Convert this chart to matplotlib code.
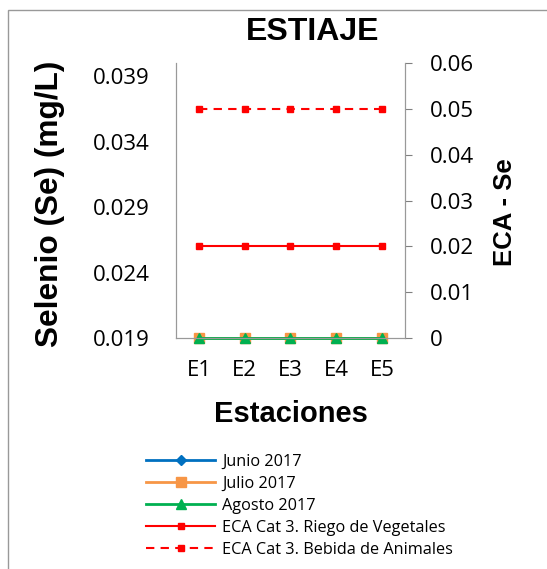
import matplotlib.pyplot as plt

estaciones = ['E1', 'E2', 'E3', 'E4', 'E5']
junio = [0.019, 0.019, 0.019, 0.019, 0.019]
julio = [0.019, 0.019, 0.019, 0.019, 0.019]
agosto = [0.019, 0.019, 0.019, 0.019, 0.019]
eca_riego = [0.02, 0.02, 0.02, 0.02, 0.02]
eca_bebida = [0.05, 0.05, 0.05, 0.05, 0.05]
left_ticks = [0.019, 0.024, 0.029, 0.034, 0.039]
right_ticks = [0, 0.01, 0.02, 0.03, 0.04, 0.05, 0.06]

plt.rcParams['font.family'] = ['Open Sans', 'DejaVu Sans']

fig = plt.figure(figsize=(5.47, 5.69), dpi=100)
ax = fig.add_axes([0.322, 0.406, 0.418, 0.483])
ax2 = ax.twinx()

x = range(len(estaciones))
l1, = ax.plot(x, junio, color='#0070C0', marker='D', markersize=5, lw=2, label='Junio 2017', clip_on=False)
l2, = ax.plot(x, julio, color='#F79646', marker='s', markersize=7, lw=2, label='Julio 2017', clip_on=False)
l3, = ax.plot(x, agosto, color='#00B050', marker='^', markersize=7, lw=2, label='Agosto 2017', clip_on=False)
l4, = ax2.plot(x, eca_riego, color='#FF0000', marker='s', markersize=4, lw=1.5,
               label='ECA Cat 3. Riego de Vegetales')
l5, = ax2.plot(x, eca_bebida, color='#FF0000', marker='s', markersize=4, lw=1.5, ls=(0, (4, 3)),
               label='ECA Cat 3. Bebida de Animales')

ax.set_xlim(-0.5, 4.5)
ax.set_ylim(0.019, 0.040)
ax.set_yticks(left_ticks)
ax.set_yticklabels([f'{v:.3f}' for v in left_ticks], fontsize=16)
ax.set_xticks(list(x))
ax.set_xticklabels(estaciones, fontsize=16)
ax.tick_params(axis='x', length=0, pad=16)
ax.tick_params(axis='y', length=0, pad=19)

ax2.set_ylim(0, 0.06)
ax2.set_yticks(right_ticks)
ax2.set_yticklabels(['0'] + [f'{v:.2f}' for v in right_ticks[1:]], fontsize=16)
ax2.tick_params(axis='y', length=5, color='#808080', pad=13)

for a in (ax, ax2):
    a.spines['top'].set_visible(False)
    for s in ['left', 'right', 'bottom']:
        a.spines[s].set_color('#999999')

bold = dict(fontweight='bold', family='Liberation Sans', ha='center', va='center')
fig.text(0.571, 0.943, 'ESTIAJE', fontsize=23, **bold)
fig.text(0.091, 0.641, 'Selenio (Se) (mg/L)', fontsize=22.8, rotation=90, **bold)
fig.text(0.923, 0.627, 'ECA - Se', fontsize=18.5, rotation=90, **bold)
fig.text(0.531, 0.273, 'Estaciones', fontsize=21, **bold)

fig.legend(handles=[l1, l2, l3, l4, l5], loc='upper left', bbox_to_anchor=(0.267, 0.203),
           frameon=False, fontsize=11.7, handlelength=4.25, handletextpad=0.45,
           labelspacing=0.37, borderpad=0, borderaxespad=0)

top = 1 - 10 / 569
fig.patches.append(plt.Rectangle((8 / 547, -0.1), 1.2, top + 0.1, transform=fig.transFigure,
                                 fill=False, edgecolor='#999999', lw=1))

fig.savefig('out.png', dpi=100)
